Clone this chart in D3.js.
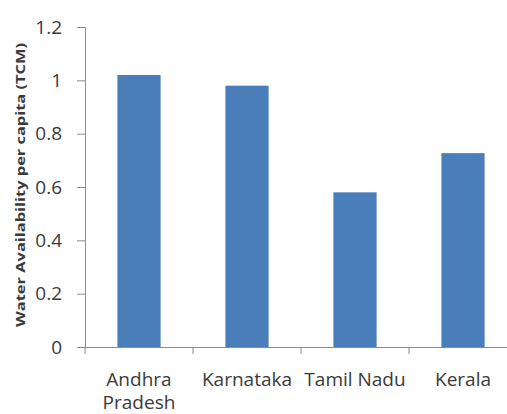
<!DOCTYPE html>
<html>
<head>
<meta charset="utf-8">
<script src="https://cdn.jsdelivr.net/npm/d3@7"></script>
<style>
  body { margin: 0; background: #fff; }
  svg { display: block; font-family: 'Open Sans', sans-serif; }
</style>
</head>
<body>
<div id="vis"></div>
<script>
// data
const states = ['Andhra Pradesh', 'Karnataka', 'Tamil Nadu', 'Kerala']
const labelLines = [['Andhra', 'Pradesh'], ['Karnataka'], ['Tamil Nadu'], ['Kerala']]
const waterPerCapita = [1.02, 0.98, 0.58, 0.727]
const yTicks = [0, 0.2, 0.4, 0.6, 0.8, 1, 1.2]
const yTitle = 'Water Availability per capita (TCM)'

const W = 507, H = 414
const plot = {left: 85, right: 517, top: 27, bottom: 347}

const svg = d3.select('#vis').append('svg')
  .attr('width', W)
  .attr('height', H)

const x = d3.scaleBand()
  .domain(states)
  .range([plot.left, plot.right])
  .paddingInner(0.6)
  .paddingOuter(0.3)

const y = d3.scaleLinear()
  .domain([0, 1.2])
  .range([plot.bottom, plot.top])

// bars
svg.selectAll('rect.bar')
  .data(states)
  .enter()
  .append('rect')
  .attr('class', 'bar')
  .attr('x', d => x(d))
  .attr('width', x.bandwidth())
  .attr('y', (d, i) => y(waterPerCapita[i]))
  .attr('height', (d, i) => y(0) - y(waterPerCapita[i]))
  .attr('fill', '#4a7ebb')

// y axis
const yAxis = d3.axisLeft(y)
  .tickValues(yTicks)
  .tickFormat(d => d)
  .tickSize(8)
  .tickPadding(15)

const gy = svg.append('g')
  .attr('transform', `translate(${plot.left},0)`)
  .call(yAxis)
gy.select('.domain').attr('stroke', '#8c8c8c')
gy.selectAll('.tick line').attr('stroke', '#8c8c8c')
gy.selectAll('.tick text')
  .attr('font-size', '19px')
  .attr('fill', '#3a3a3a')
  .attr('font-family', 'Open Sans, sans-serif')

// x axis line with boundary ticks
svg.append('line')
  .attr('x1', plot.left - 8).attr('x2', plot.right)
  .attr('y1', plot.bottom + 0.5).attr('y2', plot.bottom + 0.5)
  .attr('stroke', '#8c8c8c')

const bounds = states.map(d => x(d) - x.step() * x.paddingInner() / 2)
bounds[0] = plot.left
bounds.push(plot.right)
svg.selectAll('line.xtick')
  .data(bounds)
  .enter()
  .append('line')
  .attr('class', 'xtick')
  .attr('x1', d => d).attr('x2', d => d)
  .attr('y1', plot.bottom).attr('y2', plot.bottom + 7)
  .attr('stroke', '#8c8c8c')

// category labels
const xl = svg.selectAll('text.xlab')
  .data(states)
  .enter()
  .append('text')
  .attr('class', 'xlab')
  .attr('text-anchor', 'middle')
  .attr('font-size', '19px')
  .attr('fill', '#3a3a3a')

xl.selectAll('tspan')
  .data((d, i) => labelLines[i].map(t => ({ t: t, cx: x(d) + x.bandwidth() / 2 })))
  .enter()
  .append('tspan')
  .attr('x', d => d.cx)
  .attr('y', (d, j) => 386 + j * 23)
  .text(d => d.t)

// y title
svg.append('text')
  .attr('transform', 'translate(25,185) rotate(-90)')
  .attr('text-anchor', 'middle')
  .attr('font-size', '13px')
  .attr('font-weight', 'bold')
  .attr('fill', '#3a3a3a')
  .attr('textLength', 284)
  .attr('lengthAdjust', 'spacingAndGlyphs')
  .text(yTitle)
</script>
</body>
</html>
